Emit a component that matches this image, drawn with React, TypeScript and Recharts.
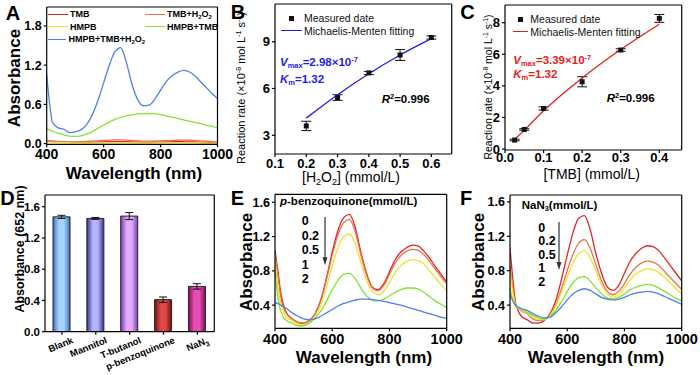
import React from 'react';
import {
  LineChart, Line, XAxis, YAxis, ComposedChart, Scatter, ErrorBar,
  BarChart, Bar, Cell, Legend
} from 'recharts';

const FONT = '"Liberation Sans", Arial, sans-serif';

// shared wavelength grid (nm) for the spectra panels A, E, F
const wavelengths = [400, 410, 420, 440, 460, 480, 500, 520, 540, 560, 580, 600, 620, 640, 660, 680,
  700, 720, 740, 760, 780, 800, 820, 840, 860, 880, 900, 920, 940, 960, 980, 1000];

// Panel A
const namesA = ['TMB', 'TMB+H2O2', 'HMPB', 'HMPB+TMB', 'HMPB+TMB+H2O2'];
const tmbA = [0.045, 0.04, 0.035, 0.03, 0.025, 0.02, 0.018, 0.018, 0.02, 0.022, 0.025, 0.028, 0.03, 0.032, 0.032, 0.03,
  0.026, 0.022, 0.02, 0.02, 0.022, 0.024, 0.026, 0.028, 0.03, 0.03, 0.028, 0.025, 0.02, 0.016, 0.012, 0.01];
const tmbH2o2A = [0.05, 0.045, 0.04, 0.035, 0.03, 0.028, 0.028, 0.03, 0.033, 0.037, 0.042, 0.048, 0.053, 0.057, 0.058, 0.055,
  0.048, 0.042, 0.038, 0.038, 0.04, 0.043, 0.047, 0.05, 0.052, 0.053, 0.052, 0.048, 0.043, 0.037, 0.032, 0.028];
const hmpbA = [0.025, 0.022, 0.02, 0.018, 0.016, 0.014, 0.012, 0.011, 0.01, 0.01, 0.011, 0.012, 0.012, 0.013, 0.013, 0.012,
  0.011, 0.01, 0.01, 0.01, 0.011, 0.012, 0.012, 0.013, 0.013, 0.012, 0.012, 0.011, 0.01, 0.01, 0.009, 0.009];
const hmpbTmbA = [0.23, 0.21, 0.19, 0.16, 0.135, 0.115, 0.11, 0.12, 0.145, 0.185, 0.235, 0.285, 0.33, 0.37, 0.4, 0.425,
  0.44, 0.455, 0.46, 0.46, 0.455, 0.445, 0.425, 0.405, 0.385, 0.365, 0.345, 0.325, 0.305, 0.285, 0.265, 0.245];
const hmpbTmbH2o2A = [1.06, 0.62, 0.33, 0.24, 0.22, 0.17, 0.18, 0.21, 0.29, 0.44, 0.66, 0.93, 1.2, 1.41, 1.47, 1.24,
  0.9, 0.67, 0.58, 0.59, 0.68, 0.82, 0.95, 1.04, 1.09, 1.12, 1.1, 1.04, 0.95, 0.86, 0.77, 0.69];

// Panel B
const h2o2Conc = [0.2, 0.3, 0.4, 0.5, 0.6];
const rateB = [3.6, 5.42, 7.0, 8.15, 9.27];
const errB = [0.3, 0.18, 0.1, 0.35, 0.1];
const fitB = [4.1, 5.6, 6.95, 8.15, 9.2];

// Panel C
const tmbConc = [0.025, 0.05, 0.1, 0.2, 0.3, 0.4];
const rateC = [0.57, 1.24, 2.57, 4.26, 6.27, 8.27];
const errC = [0.05, 0.05, 0.1, 0.32, 0.08, 0.25];
const fitC = [0.6, 1.2, 2.42, 4.5, 6.3, 7.9];

// Panel D
const scavengers = ['Blank', 'Mannitol', 'T-butanol', 'p-benzoquinone', 'NaN3'];
const absD = [1.47, 1.45, 1.48, 0.41, 0.58];
const errD = [0.02, 0.012, 0.045, 0.035, 0.035];

// Panel E (p-benzoquinone, mmol/L)
const concLabels = ['0', '0.2', '0.5', '1', '2'];
const e0 = [1.04, 0.8, 0.55, 0.31, 0.24, 0.2, 0.19, 0.22, 0.3, 0.46, 0.72, 1.02, 1.27, 1.42, 1.46, 1.31,
  1.02, 0.77, 0.61, 0.58, 0.65, 0.79, 0.93, 1.02, 1.07, 1.1, 1.09, 1.03, 0.95, 0.85, 0.76, 0.67];
const e02 = [1.0, 0.75, 0.5, 0.3, 0.24, 0.2, 0.19, 0.22, 0.3, 0.45, 0.7, 0.98, 1.22, 1.36, 1.4, 1.26,
  0.99, 0.75, 0.6, 0.57, 0.63, 0.76, 0.89, 0.98, 1.03, 1.05, 1.04, 0.99, 0.91, 0.82, 0.73, 0.65];
const e05 = [0.92, 0.62, 0.42, 0.26, 0.22, 0.18, 0.17, 0.2, 0.27, 0.4, 0.61, 0.86, 1.07, 1.2, 1.23, 1.12,
  0.9, 0.69, 0.56, 0.52, 0.56, 0.66, 0.78, 0.86, 0.91, 0.93, 0.92, 0.88, 0.8, 0.72, 0.64, 0.57];
const e1 = [0.8, 0.5, 0.33, 0.22, 0.19, 0.16, 0.16, 0.19, 0.25, 0.33, 0.45, 0.58, 0.69, 0.76, 0.77, 0.71,
  0.6, 0.51, 0.46, 0.45, 0.47, 0.51, 0.55, 0.58, 0.6, 0.6, 0.59, 0.55, 0.5, 0.45, 0.41, 0.37];
const e2 = [0.43, 0.42, 0.4, 0.36, 0.31, 0.27, 0.24, 0.23, 0.24, 0.27, 0.31, 0.35, 0.39, 0.42, 0.44, 0.46,
  0.47, 0.47, 0.465, 0.455, 0.445, 0.43, 0.415, 0.4, 0.38, 0.36, 0.34, 0.32, 0.3, 0.28, 0.26, 0.245];

// Panel F (NaN3, mmol/L)
const f0 = [1.06, 0.7, 0.42, 0.27, 0.23, 0.19, 0.19, 0.22, 0.3, 0.45, 0.7, 0.98, 1.24, 1.41, 1.44, 1.28,
  1.0, 0.77, 0.61, 0.57, 0.63, 0.77, 0.91, 1.0, 1.06, 1.09, 1.08, 1.03, 0.95, 0.86, 0.77, 0.68];
const f02 = [0.86, 0.58, 0.4, 0.33, 0.3, 0.24, 0.22, 0.23, 0.29, 0.41, 0.59, 0.8, 0.99, 1.12, 1.16, 1.06,
  0.87, 0.68, 0.56, 0.52, 0.56, 0.65, 0.76, 0.84, 0.89, 0.91, 0.9, 0.86, 0.79, 0.72, 0.65, 0.58];
const f05 = [0.8, 0.55, 0.4, 0.34, 0.31, 0.26, 0.23, 0.23, 0.28, 0.39, 0.55, 0.73, 0.89, 1.0, 1.03, 0.95,
  0.8, 0.64, 0.53, 0.49, 0.52, 0.6, 0.69, 0.76, 0.8, 0.82, 0.81, 0.78, 0.72, 0.66, 0.59, 0.53];
const f1 = [0.6, 0.45, 0.38, 0.35, 0.32, 0.28, 0.25, 0.24, 0.27, 0.34, 0.44, 0.56, 0.66, 0.72, 0.73, 0.68,
  0.6, 0.53, 0.48, 0.47, 0.49, 0.53, 0.58, 0.61, 0.63, 0.64, 0.63, 0.6, 0.56, 0.52, 0.48, 0.45];
const f2 = [0.52, 0.45, 0.4, 0.36, 0.34, 0.3, 0.27, 0.25, 0.26, 0.31, 0.38, 0.46, 0.53, 0.57, 0.59, 0.57,
  0.53, 0.49, 0.47, 0.46, 0.47, 0.49, 0.52, 0.54, 0.55, 0.56, 0.55, 0.53, 0.5, 0.47, 0.44, 0.41];

const RED = '#dc2626';
const ORANGE = '#e8724a';
const YELLOW = '#f2e030';
const GREEN = '#84e232';
const BLUE = '#4f7ff0';
const seriesColors = [RED, ORANGE, YELLOW, GREEN, BLUE];

const rowsA = wavelengths.map((wl, i) => ({
  wl, tmb: tmbA[i], tmbH: tmbH2o2A[i], hmpb: hmpbA[i], hmpbTmb: hmpbTmbA[i], all: hmpbTmbH2o2A[i],
}));
const keysA = ['tmb', 'tmbH', 'hmpb', 'hmpbTmb', 'all'];
const rowsE = wavelengths.map((wl, i) => ({ wl, c0: e0[i], c1: e02[i], c2: e05[i], c3: e1[i], c4: e2[i] }));
const rowsF = wavelengths.map((wl, i) => ({ wl, c0: f0[i], c1: f02[i], c2: f05[i], c3: f1[i], c4: f2[i] }));
const pointsB = h2o2Conc.map((x, i) => ({ x, y: rateB[i], err: errB[i] }));
const fitRowsB = h2o2Conc.map((x, i) => ({ x, y: fitB[i] }));
const pointsC = tmbConc.map((x, i) => ({ x, y: rateC[i], err: errC[i] }));
const fitRowsC = tmbConc.map((x, i) => ({ x, y: fitC[i] }));
const rowsD = scavengers.map((name, i) => ({ name, v: absD[i], err: errD[i] }));

const barGrad = [
  ['#3f6fc4', '#a6d3fb'],
  ['#35358f', '#b4b4fa'],
  ['#7a3db5', '#e2aafc'],
  ['#6e1010', '#e04848'],
  ['#7c0f5e', '#e64cb2'],
];

const subS: React.CSSProperties = { fontSize: '0.65em', verticalAlign: 'baseline', position: 'relative', top: '0.3em' };
const supS: React.CSSProperties = { fontSize: '0.65em', verticalAlign: 'baseline', position: 'relative', top: '-0.55em' };

const chem = (s: string) =>
  s.split(/(\d)/).map((part, i) => (/^\d$/.test(part) ? <span key={i} style={subS}>{part}</span> : part));

const Txt = ({ x, y, size = 12, bold = true, rot = false, color = '#000', left = false, children }: any) => (
  <div
    style={{
      position: 'absolute', left: x, top: y, fontSize: size, fontWeight: bold ? 700 : 400, color,
      whiteSpace: 'nowrap', lineHeight: 1,
      transform: `translate(${left ? '0' : '-50%'}, -50%)${rot ? ' rotate(-90deg)' : ''}`,
    }}
  >
    {children}
  </div>
);

const Arrow = ({ x, y1, y2 }: any) => {
  const h = y2 - y1;
  return (
    <svg style={{ position: 'absolute', left: x - 4, top: y1 }} width={8} height={h}>
      <line x1={4} y1={0} x2={4} y2={h - 5} stroke="#333" strokeWidth={1.2} />
      <path d={`M1.5 ${h - 8} L4 ${h} L6.5 ${h - 8} Z`} fill="#333" />
    </svg>
  );
};

const axisStroke = { stroke: '#000', strokeWidth: 1.2 };
const tickLine = { stroke: '#000', strokeWidth: 1.2 };

const legendA = ({ payload }: any) => {
  const items = [...(payload || [])].sort((a: any, b: any) => namesA.indexOf(a.value) - namesA.indexOf(b.value));
  return (
    <div style={{ display: 'grid', gridTemplateColumns: '97px 80px', fontSize: 9, fontWeight: 700, fontFamily: FONT }}>
      {items.map((p: any) => (
        <div key={p.value} style={{ display: 'flex', alignItems: 'center', height: 12.7 }}>
          <span style={{ display: 'inline-block', width: 20, borderTop: `1.5px solid ${p.color}`, marginRight: 2 }} />
          <span>{chem(p.value)}</span>
        </div>
      ))}
    </div>
  );
};

const fitLegend = (lineW: number, textX: number) => ({ payload }: any) => (
  <div style={{ fontSize: 10.5, fontFamily: FONT, color: '#111' }}>
    {(payload || []).map((p: any) => (
      <div key={p.value} style={{ position: 'relative', height: 12.4, display: 'flex', alignItems: 'center' }}>
        <span style={{ position: 'relative', width: textX, height: 12.4, display: 'inline-block' }}>
          {p.type === 'square' ? (
            <span style={{ position: 'absolute', left: lineW / 2 - 2.5, top: 3.7, width: 5, height: 5, background: '#111' }} />
          ) : (
            <span style={{ position: 'absolute', left: 0, top: 5.6, width: lineW, borderTop: `1.3px solid ${p.color}` }} />
          )}
        </span>
        <span>{p.value}</span>
      </div>
    ))}
  </div>
);

const squareShape = (props: any) => (
  <rect x={props.cx - 2.5} y={props.cy - 2.5} width={5} height={5} fill="#111" />
);

// top and right axis lines close the frame (1px axes: zero-size axes are not drawn)
const frameAxes = () => [
  <XAxis key="xt" xAxisId="top" orientation="top" type="number" domain={[0, 1]} height={1} tick={false} tickLine={false} axisLine={axisStroke} />,
  <YAxis key="yr" yAxisId="right" orientation="right" type="number" domain={[0, 1]} width={1} tick={false} tickLine={false} axisLine={axisStroke} />,
];

const spectraAxes = (yDomain: number[], yTicks: number[], yW: number, xH: number, xFont: number) => [
  <XAxis key="x" dataKey="wl" type="number" domain={[400, 1000]} ticks={[400, 600, 800, 1000]} height={xH}
    tickSize={3} tickMargin={2} axisLine={axisStroke} tickLine={tickLine} allowDataOverflow
    tick={{ fontSize: xFont, fontWeight: 700, fill: '#000' }} />,
  <YAxis key="y" type="number" domain={yDomain} ticks={yTicks} width={yW} tickSize={3} tickMargin={2}
    axisLine={axisStroke} tickLine={tickLine} allowDataOverflow tickFormatter={(v: number) => v.toFixed(1)}
    tick={{ fontSize: 12.5, fontWeight: 700, fill: '#000' }} />,
  ...frameAxes(),
];

const DTick = (props: any) => {
  const { x, y, payload } = props;
  const label = payload.value as string;
  return (
    <text transform={`translate(${x + 12},${y + 6}) rotate(-22)`} textAnchor="end" fontSize={9.5} fontWeight={700} fill="#000">
      {label === 'NaN3' ? (
        <>NaN<tspan fontSize={7} dy={3}>3</tspan></>
      ) : label}
    </text>
  );
};

export default function App() {
  return (
    <div style={{ position: 'absolute', left: 0, top: 0, width: 700, height: 375, background: '#fff', fontFamily: FONT, overflow: 'hidden' }}>
      {/* A */}
      <div style={{ position: 'absolute', left: 0, top: 0 }}>
        <LineChart width={240} height={185} data={rowsA} margin={{ top: 6, right: 21.5, bottom: 0, left: 0 }}>
          {spectraAxes([-0.01, 2.09], [0, 0.6, 1.2, 1.8], 46.7, 40.7, 14)}
          <Legend layout="vertical" align="center" verticalAlign="middle" content={legendA}
            wrapperStyle={{ position: 'absolute', left: 48, top: 7.7, width: 180, height: 40 }} />
          {keysA.map((k, i) => (
            <Line key={k} dataKey={k} name={namesA[i]} stroke={seriesColors[i]} strokeWidth={1.3} dot={false} type="monotone" isAnimationActive={false} />
          ))}
        </LineChart>
      </div>

      {/* B */}
      <div style={{ position: 'absolute', left: 230, top: 0 }}>
        <ComposedChart width={230} height={185} margin={{ top: 3, right: 7.3, bottom: 0, left: 0 }}>
          <XAxis dataKey="x" type="number" domain={[0.1, 0.665]} ticks={[0.1, 0.2, 0.3, 0.4, 0.5, 0.6]} height={31}
            tickSize={3} tickMargin={2} axisLine={axisStroke} tickLine={tickLine} allowDataOverflow
            tickFormatter={(v: number) => v.toFixed(1)} tick={{ fontSize: 13, fontWeight: 700, fill: '#000' }} />
          <YAxis type="number" domain={[1.8, 11.42]} ticks={[3, 6, 9]} width={45} tickSize={3} tickMargin={2}
            axisLine={axisStroke} tickLine={tickLine} allowDataOverflow tick={{ fontSize: 13, fontWeight: 700, fill: '#000' }} />
          {frameAxes()}
          <Legend layout="vertical" align="center" verticalAlign="middle" content={fitLegend(21, 23.5)}
            wrapperStyle={{ position: 'absolute', left: 50.5, top: 12.1, width: 170, height: 26 }} />
          <Scatter data={pointsB} dataKey="y" name="Measured date" legendType="square" fill="#111" shape={squareShape} isAnimationActive={false}>
            <ErrorBar dataKey="err" direction="y" width={5} stroke="#111" strokeWidth={1} />
          </Scatter>
          <Line data={fitRowsB} dataKey="y" name="Michaelis-Menten fitting" stroke="#1c1cf0" strokeWidth={1.3} dot={false} type="monotone" isAnimationActive={false} />
        </ComposedChart>
      </div>

      {/* C */}
      <div style={{ position: 'absolute', left: 460, top: 0 }}>
        <ComposedChart width={240} height={185} margin={{ top: 4, right: 17.3, bottom: 0, left: 0 }}>
          <XAxis dataKey="x" type="number" domain={[0, 0.458]} ticks={[0, 0.1, 0.2, 0.3, 0.4]} height={35}
            tickSize={3} tickMargin={0} axisLine={axisStroke} tickLine={tickLine} allowDataOverflow
            tickFormatter={(v: number) => v.toFixed(1)} tick={{ fontSize: 13, fontWeight: 700, fill: '#000' }} />
          <YAxis type="number" domain={[-0.06, 9.12]} ticks={[0, 2, 4, 6, 8]} width={45} tickSize={3} tickMargin={2}
            axisLine={axisStroke} tickLine={tickLine} allowDataOverflow tick={{ fontSize: 13, fontWeight: 700, fill: '#000' }} />
          {frameAxes()}
          <Legend layout="vertical" align="center" verticalAlign="middle" content={fitLegend(15, 17)}
            wrapperStyle={{ position: 'absolute', left: 53.3, top: 13.1, width: 170, height: 26 }} />
          <Scatter data={pointsC} dataKey="y" name="Measured date" legendType="square" fill="#111" shape={squareShape} isAnimationActive={false}>
            <ErrorBar dataKey="err" direction="y" width={5} stroke="#111" strokeWidth={1} />
          </Scatter>
          <Line data={fitRowsC} dataKey="y" name="Michaelis-Menten fitting" stroke="#e3201b" strokeWidth={1.3} dot={false} type="monotone" isAnimationActive={false} />
        </ComposedChart>
      </div>

      {/* D */}
      <div style={{ position: 'absolute', left: 0, top: 185 }}>
        <BarChart width={230} height={190} data={rowsD} margin={{ top: 9, right: 14.7, bottom: 0, left: 0 }} barCategoryGap={0}>
          <defs>
            {barGrad.map(([dark, light], i) => (
              <linearGradient key={i} id={`bg${i}`} x1="0" y1="0" x2="1" y2="0">
                <stop offset="0%" stopColor={dark} />
                <stop offset="35%" stopColor={light} />
                <stop offset="65%" stopColor={light} />
                <stop offset="100%" stopColor={dark} />
              </linearGradient>
            ))}
          </defs>
          <XAxis dataKey="name" height={43.3} tickSize={3} tickMargin={2} axisLine={axisStroke} tickLine={tickLine}
            interval={0} tick={<DTick />} />
          <YAxis type="number" domain={[0, 1.75]} ticks={[0, 0.4, 0.8, 1.2, 1.6]} width={45} tickSize={3} tickMargin={2}
            axisLine={axisStroke} tickLine={tickLine} allowDataOverflow tickFormatter={(v: number) => v.toFixed(1)}
            tick={{ fontSize: 11.5, fontWeight: 700, fill: '#000' }} />
          {frameAxes()}
          <Bar dataKey="v" barSize={17} stroke="#222" strokeWidth={1} isAnimationActive={false}>
            {rowsD.map((r, i) => <Cell key={r.name} fill={`url(#bg${i})`} />)}
            <ErrorBar dataKey="err" width={4} stroke="#111" strokeWidth={1} />
          </Bar>
        </BarChart>
      </div>

      {/* E */}
      <div style={{ position: 'absolute', left: 230, top: 185 }}>
        <LineChart width={245} height={190} data={rowsE} margin={{ top: 8.3, right: 27.3, bottom: 0, left: 0 }}>
          {spectraAxes([0.13, 1.693], [0.4, 0.8, 1.2, 1.6], 45, 46.7, 14.5)}
          {['c0', 'c1', 'c2', 'c3', 'c4'].map((k, i) => (
            <Line key={k} dataKey={k} name={concLabels[i]} stroke={seriesColors[i]} strokeWidth={1.3} dot={false} type="monotone" isAnimationActive={false} />
          ))}
        </LineChart>
      </div>

      {/* F */}
      <div style={{ position: 'absolute', left: 460, top: 185 }}>
        <LineChart width={240} height={190} data={rowsF} margin={{ top: 9, right: 17.3, bottom: 0, left: 0 }}>
          {spectraAxes([0.13, 1.68], [0.4, 0.8, 1.2, 1.6], 50, 46.7, 14.5)}
          {['c0', 'c1', 'c2', 'c3', 'c4'].map((k, i) => (
            <Line key={k} dataKey={k} name={concLabels[i]} stroke={seriesColors[i]} strokeWidth={1.3} dot={false} type="monotone" isAnimationActive={false} />
          ))}
        </LineChart>
      </div>

      {/* panel letters */}
      <Txt x={13} y={12.5} size={20}>A</Txt>
      <Txt x={238} y={11.5} size={20}>B</Txt>
      <Txt x={467.5} y={11.5} size={20}>C</Txt>
      <Txt x={7.5} y={197.5} size={20}>D</Txt>
      <Txt x={237.5} y={197.5} size={20}>E</Txt>
      <Txt x={466} y={197.5} size={20}>F</Txt>

      {/* axis titles */}
      <Txt x={14} y={77.5} size={17} rot>Absorbance</Txt>
      <Txt x={134} y={173.3} size={17}>Wavelength (nm)</Txt>
      <Txt x={241.5} y={88} size={11} bold={false} rot>
        Reaction rate (×10<span style={supS}>-8</span> mol L<span style={supS}>-1</span> s<span style={supS}>-1</span>)
      </Txt>
      <Txt x={351} y={177} size={14} bold={false}>[H<span style={subS}>2</span>O<span style={subS}>2</span>] (mmol/L)</Txt>
      <Txt x={487.5} y={87} size={10.5} bold={false} rot>
        Reaction rate (×10<span style={supS}>-8</span> mol L<span style={supS}>-1</span> s<span style={supS}>-1</span>)
      </Txt>
      <Txt x={591.7} y={174} size={14} bold={false}>[TMB] (mmol/L)</Txt>
      <Txt x={20} y={249} size={12.5} rot>Absorbance (652 nm)</Txt>
      <Txt x={246} y={261.7} size={17} rot>Absorbance</Txt>
      <Txt x={364} y={356.7} size={17}>Wavelength (nm)</Txt>
      <Txt x={478} y={261.7} size={17} rot>Absorbance</Txt>
      <Txt x={596} y={356.7} size={17}>Wavelength (nm)</Txt>

      {/* B / C annotations */}
      <Txt x={280} y={63} size={11.5} color="#1c1cf0" left>
        <i>V</i><span style={subS}>max</span>=2.98×10<span style={supS}>-7</span>
      </Txt>
      <Txt x={280} y={80} size={11.5} color="#1c1cf0" left><i>K</i><span style={subS}>m</span>=1.32</Txt>
      <Txt x={381.7} y={100} size={11.5} left><i>R</i><span style={supS}>2</span>=0.996</Txt>
      <Txt x={513.3} y={60.7} size={11.5} color="#e3201b" left>
        <i>V</i><span style={subS}>max</span>=3.39×10<span style={supS}>-7</span>
      </Txt>
      <Txt x={513.3} y={74.5} size={11.5} color="#e3201b" left><i>K</i><span style={subS}>m</span>=1.32</Txt>
      <Txt x={606.7} y={99} size={11.5} left><i>R</i><span style={supS}>2</span>=0.996</Txt>

      {/* E / F annotations */}
      <Txt x={280} y={201.7} size={11.5} left><i>p</i>-benzoquinone(mmol/L)</Txt>
      {concLabels.map((c, i) => (
        <Txt key={'e' + c} x={301.7} y={221 + i * 14.6} size={12.5} left>{c}</Txt>
      ))}
      <Arrow x={325} y1={216.7} y2={265} />
      <Txt x={521.7} y={205.7} size={11.5} left>NaN<span style={subS}>3</span>(mmol/L)</Txt>
      {concLabels.map((c, i) => (
        <Txt key={'f' + c} x={538.3} y={227.7 + i * 13.5} size={12.5} left>{c}</Txt>
      ))}
      <Arrow x={559.3} y1={222} y2={270} />
    </div>
  );
}
